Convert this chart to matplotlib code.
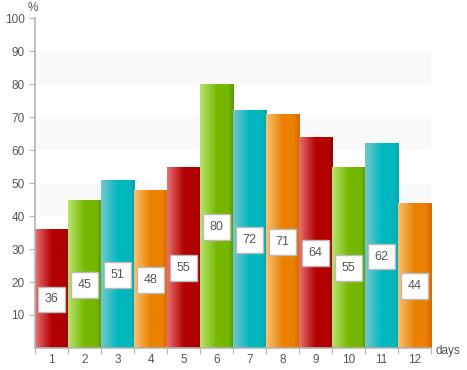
import numpy as np
import matplotlib
matplotlib.use("Agg")
import matplotlib.pyplot as plt
from matplotlib.colors import LinearSegmentedColormap

plt.rcParams['font.family'] = ['Liberation Sans', 'DejaVu Sans']

days = list(range(1, 13))
values = [36, 45, 51, 48, 55, 80, 72, 71, 64, 55, 62, 44]
# light, base, dark shade for each bar colour
shades = [
    ("#e87272", "#b30000", "#9a0000"),  # red
    ("#b9e36e", "#76b800", "#5c9800"),  # green
    ("#72c8cd", "#00b8bf", "#00a6ad"),  # cyan
    ("#f8c272", "#ec8000", "#d86800"),  # orange
]
ytick_vals = list(range(10, 101, 10))
grey = "#b4b4b4"
txt = "#555555"

fig = plt.figure(figsize=(4.67, 3.70), dpi=100)
ax = fig.add_axes([0.075, 0.0595, 0.848, 0.8915])

# alternating light bands
for lo in (80, 60, 40, 20):
    ax.axhspan(lo, lo + 10, color="#f9f9f9", zorder=0, lw=0)

bars = ax.bar(days, values, width=1.0, zorder=2, linewidth=0)
grad = np.linspace(0, 1, 256).reshape(1, -1)
for i, (b, v) in enumerate(zip(bars, values)):
    light, base, dark = shades[i % 4]
    cmap = LinearSegmentedColormap.from_list(
        "g%d" % i, [(0, light), (0.5, base), (0.82, base), (1, dark)])
    x0 = b.get_x()
    im = ax.imshow(grad, cmap=cmap, aspect="auto", zorder=3,
                   extent=[x0, x0 + b.get_width(), 0, v])
    im.set_clip_path(b)
    ax.text(days[i], v / 2 - 3.3, str(v), ha="center", va="center", fontsize=9,
            color=txt, zorder=5,
            bbox=dict(boxstyle="square,pad=0.55", fc="white", ec="#bbbbbb", lw=1))

ax.set_xlim(0.5, 12.5)
ax.set_ylim(0, 100)

for s in ("top", "right"):
    ax.spines[s].set_visible(False)
for s in ("left", "bottom"):
    ax.spines[s].set_color(grey)
    ax.spines[s].set_linewidth(1.2)
    ax.spines[s].set_zorder(6)

ax.set_yticks(ytick_vals)
ax.set_yticklabels([str(t) for t in ytick_vals])
ax.tick_params(axis="y", length=4, color=grey, labelcolor=txt, labelsize=8.5)

ax.set_xticks(np.arange(0.5, 12.6, 1))
ax.set_xticklabels([])
ax.set_xticks(days, minor=True)
ax.set_xticklabels([str(d) for d in days], minor=True)
ax.tick_params(axis="x", which="major", length=4, color=grey)
ax.tick_params(axis="x", which="minor", length=0, labelcolor=txt, labelsize=8.5, pad=4)

fig.text(33 / 467, 1 - 8 / 370, "%", ha="center", va="center", fontsize=8.5, color=txt)
fig.text(448 / 467, 1 - 351 / 370, "days", ha="center", va="center", fontsize=8.5, color=txt)

fig.savefig("out.png", dpi=100)
